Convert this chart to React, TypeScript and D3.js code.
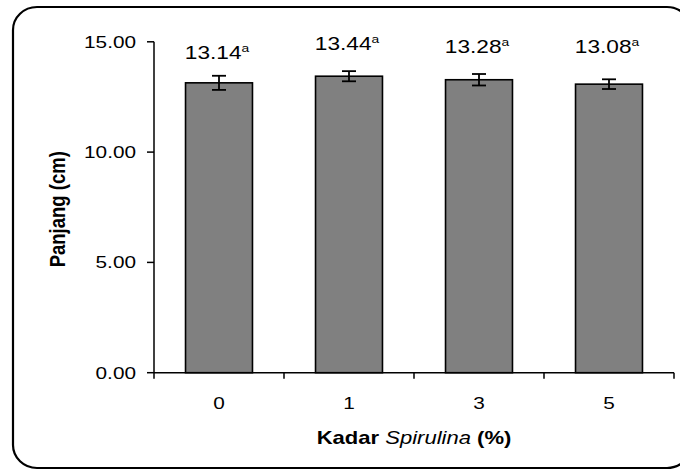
import React, { useEffect, useRef } from 'react';
import * as d3 from 'd3';

const categories = ['0', '1', '3', '5'];
const means = [13.14, 13.44, 13.28, 13.08];
const errors = [0.32, 0.23, 0.26, 0.22];
const letters = ['a', 'a', 'a', 'a'];
// where each value label sits, in axis units (placed by hand in the original)
const labelLevels = [14.22, 14.63, 14.49, 14.49];
const yTicks = [0, 5, 10, 15];

const SX = 1.26; // the original picture is stretched sideways

function App() {
  const ref = useRef<SVGSVGElement>(null);

  useEffect(() => {
    const svg = d3.select(ref.current);
    svg.selectAll('*').remove();

    const font = '"Liberation Sans", Arial, sans-serif';

    svg.append('rect')
      .attr('x', 13).attr('y', 7)
      .attr('width', 678).attr('height', 461)
      .attr('rx', 24).attr('ry', 23)
      .attr('fill', 'white')
      .attr('stroke', 'black')
      .attr('stroke-width', 2.2);

    const x = d3.scaleBand()
      .domain(categories)
      .range([154, 674])
      .padding(0);

    const y = d3.scaleLinear()
      .domain([0, 15])
      .range([372.7, 41.8]);

    const barW = x.bandwidth() * 0.515;
    const g = svg.append('g');

    // bars
    g.selectAll('.bar')
      .data(means)
      .enter().append('rect')
      .attr('class', 'bar')
      .attr('x', (d, i) => x(categories[i])! + (x.bandwidth() - barW) / 2)
      .attr('y', (d) => y(d))
      .attr('width', barW)
      .attr('height', (d) => y(0) - y(d))
      .attr('fill', '#808080')
      .attr('stroke', 'black')
      .attr('stroke-width', 1.6);

    // error bars
    const cap = 7;
    means.forEach((m, i) => {
      const cx = x(categories[i])! + x.bandwidth() / 2;
      const eb = g.append('g').attr('stroke', 'black').attr('stroke-width', 1.8);
      eb.append('line').attr('x1', cx).attr('x2', cx).attr('y1', y(m - errors[i])).attr('y2', y(m + errors[i]));
      eb.append('line').attr('x1', cx - cap).attr('x2', cx + cap).attr('y1', y(m + errors[i])).attr('y2', y(m + errors[i]));
      eb.append('line').attr('x1', cx - cap).attr('x2', cx + cap).attr('y1', y(m - errors[i])).attr('y2', y(m - errors[i]));

      const t = g.append('text')
        .attr('transform', `translate(${cx - 2},${y(labelLevels[i])}) scale(${SX},1)`)
        .attr('text-anchor', 'middle')
        .attr('font-family', font)
        .attr('font-size', 18)
        .attr('fill', 'black');
      t.append('tspan').text(m.toFixed(2));
      t.append('tspan').attr('font-size', 11).attr('dy', -7).text(letters[i]);
    });

    // y axis
    const axis = svg.append('g').attr('stroke', 'black').attr('stroke-width', 1.5);
    axis.append('line').attr('x1', 154).attr('x2', 154).attr('y1', y(15)).attr('y2', y(0));
    yTicks.forEach((v) => {
      axis.append('line').attr('x1', 147).attr('x2', 154).attr('y1', y(v)).attr('y2', y(v));
      svg.append('text')
        .attr('transform', `translate(136,${y(v)}) scale(${SX},1)`)
        .attr('dy', '0.36em')
        .attr('text-anchor', 'end')
        .attr('font-family', font)
        .attr('font-size', 16.5)
        .text(v.toFixed(2));
    });

    // x axis
    axis.append('line').attr('x1', 154).attr('x2', 674).attr('y1', y(0)).attr('y2', y(0));
    x.domain().concat(['end']).forEach((c, i) => {
      const px = 154 + i * x.step();
      axis.append('line').attr('x1', px).attr('x2', px).attr('y1', y(0)).attr('y2', y(0) + 6);
    });
    categories.forEach((c) => {
      svg.append('text')
        .attr('transform', `translate(${x(c)! + x.bandwidth() / 2},409) scale(${SX},1)`)
        .attr('text-anchor', 'middle')
        .attr('font-family', font)
        .attr('font-size', 16.5)
        .text(c);
    });

    // axis titles
    const xt = svg.append('text')
      .attr('transform', `translate(414,444) scale(${SX},1)`)
      .attr('text-anchor', 'middle')
      .attr('font-family', font)
      .attr('font-size', 17.5);
    xt.append('tspan').attr('font-weight', 'bold').text('Kadar ');
    xt.append('tspan').attr('font-style', 'italic').text('Spirulina');
    xt.append('tspan').attr('font-weight', 'bold').text(' (%)');

    svg.append('text')
      .attr('transform', `translate(65,${(y(0) + y(15)) / 2 + 2}) scale(1.18,1) rotate(-90)`)
      .attr('text-anchor', 'middle')
      .attr('font-family', font)
      .attr('font-weight', 'bold')
      .attr('font-size', 18.5)
      .text('Panjang (cm)');
  }, []);

  return (
    <svg ref={ref} width="680" height="470" style={{ position: 'absolute', left: 0, top: 0, background: 'white' }} />
  );
}

export default App;
